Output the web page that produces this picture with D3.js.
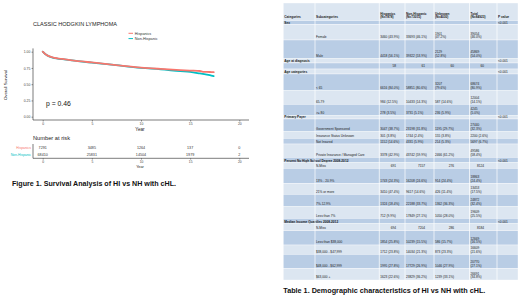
<!DOCTYPE html>
<html><head><meta charset="utf-8">
<script src="https://cdn.jsdelivr.net/npm/d3@7"></script>
<style>body{margin:0;background:#fff}svg{display:block}text{font-family:"Liberation Sans",Arial,sans-serif}</style>
</head><body>
<svg id="c" width="520" height="301"></svg>
<script>
// ---------------- DATA ----------------
const chartTitle = "CLASSIC HODGKIN LYMPHOMA";
const seriesNames = ["Hispanics", "Non-Hispanic"];
const seriesColors = ["#F8766D", "#00BFC4"];
const hispTimes = [0, 0.25, 0.5, 1, 1.5, 2, 3, 4, 5, 7, 10, 12, 14, 15, 16, 16.3, 17, 17.4];
const hispSurv  = [1.0, 0.965, 0.94, 0.913, 0.898, 0.888, 0.868, 0.85, 0.835, 0.80, 0.755, 0.735, 0.718, 0.71, 0.703, 0.69, 0.688, 0.686];
const nonHispTimes = [0, 0.25, 0.5, 1, 1.5, 2, 3, 4, 5, 7, 10, 12, 14, 15, 16, 17, 17.4];
const nonHispSurv  = [1.0, 0.965, 0.94, 0.91, 0.895, 0.885, 0.866, 0.848, 0.832, 0.80, 0.75, 0.728, 0.70, 0.688, 0.665, 0.64, 0.625];
const xTicks = [0, 5, 10, 15, 20];
const yTicks = [0, 0.25, 0.5, 0.75, 1];
const pValueText = "p = 0.46";
const riskHisp = [7291, 3485, 1264, 137, 0];
const riskNonHisp = [68410, 25831, 14504, 1979, 2];
const figCaption = "Figure 1. Survival Analysis of HI vs NH with cHL.";
const tableCaption = "Table 1. Demographic characteristics of HI vs NH with cHL.";

const tableHeaders = ["Categories", "Subcategories", "Hispanics\n(N=7878)", "Non-Hispanic\n(N=73015)", "Unknown\n(N=4030)", "Total\n(N=84923)", "P value"];
const tableRows = [
  ["Sex", "", "", "", "", "", "<0.001"],
  ["", "Female", "3460 (43.9%)", "33693 (46.1%)", "1901\n(47.2%)", "39054\n(46.0%)", ""],
  ["", "Male", "4418 (56.1%)", "39322 (53.9%)", "2129\n(52.8%)", "45869\n(54.0%)", ""],
  ["Age at diagnosis", "", "", "", "", "", "<0.001"],
  ["", "", "58", "61", "60", "60", ""],
  ["Age categories", "", "", "", "", "", "<0.001"],
  ["", "< 65", "6616 (84.0%)", "58851 (80.6%)", "3207\n(79.6%)", "68674\n(80.9%)", ""],
  ["", "65-79", "984 (12.5%)", "10433 (14.3%)", "587 (14.6%)", "12004\n(14.1%)", ""],
  ["", ">= 80", "278 (3.5%)", "3731 (5.1%)", "236 (5.9%)", "4245\n(5.0%)", ""],
  ["Primary Payer", "", "", "", "", "", "<0.001"],
  ["", "Government Sponsored", "3047 (38.7%)", "23198 (31.8%)", "1195 (29.7%)", "27440\n(32.3%)", ""],
  ["", "Insurance Status Unknown", "301 (3.8%)", "1744 (2.4%)", "155 (3.8%)", "2200 (2.6%)", ""],
  ["", "Not Insured", "1152 (14.6%)", "4331 (5.9%)", "214 (5.3%)", "5697 (6.7%)", ""],
  ["", "Private Insurance / Managed Care", "3378 (42.9%)", "43742 (59.9%)", "2466 (61.2%)", "49586\n(58.4%)", ""],
  ["Percent No High School Degree 2008-2012", "", "", "", "", "", "<0.001"],
  ["", "N-Miss", "691", "7157", "276", "8124", ""],
  ["", "13% - 20.9%", "1743 (24.3%)", "16208 (24.6%)", "914 (24.4%)", "18863\n(24.4%)", ""],
  ["", "21% or more", "3410 (47.4%)", "9617 (14.6%)", "426 (11.4%)", "13453\n(17.5%)", ""],
  ["", "7%-12.9%", "1324 (18.4%)", "22188 (33.7%)", "1362 (36.3%)", "24872\n(32.4%)", ""],
  ["", "Less than 7%", "712 (9.9%)", "17849 (27.1%)", "1050 (28.0%)", "19609\n(25.5%)", ""],
  ["Median Income Quartiles 2008-2012", "", "", "", "", "", "<0.001"],
  ["", "N-Miss", "694", "7204", "286", "8184", ""],
  ["", "Less than $38,000", "1854 (25.8%)", "10239 (15.5%)", "586 (15.7%)", "12669\n(16.5%)", ""],
  ["", "$38,000 - $47,999", "1712 (23.8%)", "14034 (21.3%)", "873 (23.3%)", "16609\n(21.6%)", ""],
  ["", "$48,000 - $62,999", "1995 (27.8%)", "17729 (26.9%)", "1046 (27.9%)", "20770\n(27.1%)", ""],
  ["", "$63,000 +", "1623 (22.6%)", "23829 (36.2%)", "1239 (33.1%)", "26691\n(34.8%)", ""]
];

// ---------------- LAYOUT ----------------
const svg = d3.select("#c");
const x = d3.scaleLinear().domain([0, 20]).range([42.7, 239.3]);
const y = d3.scaleLinear().domain([0, 1]).range([116.7, 51.7]);
const panelLeft = 33, panelRight = 249, panelTop = 48.4, panelBottom = 120;

svg.append("text").attr("x", 33).attr("y", 26.2).attr("font-size", 6.1)
  .attr("fill", "#222").attr("textLength", 84).attr("lengthAdjust", "spacingAndGlyphs").text(chartTitle);

// legend
seriesNames.forEach((n, i) => {
  const ly = 33.3 + i * 5.3;
  svg.append("line").attr("x1", 128.5).attr("x2", 133).attr("y1", ly).attr("y2", ly)
    .attr("stroke", seriesColors[i]).attr("stroke-width", 1);
  svg.append("text").attr("x", 134.8).attr("y", ly + 1.3).attr("font-size", 3.8).attr("fill", "#333").text(n);
});

// axes
const gx = svg.append("g").attr("transform", `translate(0,${panelBottom})`)
  .call(d3.axisBottom(x).tickValues(xTicks).tickSize(1.5).tickPadding(1.5).tickFormat(d3.format("d")));
const gy = svg.append("g").attr("transform", `translate(${panelLeft},0)`)
  .call(d3.axisLeft(y).tickValues(yTicks).tickSize(1.5).tickPadding(1.2).tickFormat(d3.format(".2f")));
[gx, gy].forEach(g => {
  g.select(".domain").remove();
  g.selectAll("text").attr("font-size", 3.4).attr("fill", "#444").attr("font-family", "Liberation Sans, Arial");
  g.selectAll("line").attr("stroke", "#333").attr("stroke-width", 0.5);
});
svg.append("line").attr("x1", panelLeft).attr("x2", panelRight).attr("y1", panelBottom).attr("y2", panelBottom).attr("stroke", "#222").attr("stroke-width", 0.6);
svg.append("line").attr("x1", panelLeft).attr("x2", panelLeft).attr("y1", panelTop).attr("y2", panelBottom).attr("stroke", "#222").attr("stroke-width", 0.6);

svg.append("text").attr("x", 140).attr("y", 130.5).attr("text-anchor", "middle").attr("font-size", 4.6).attr("fill", "#222").text("Year");
svg.append("text").attr("transform", "translate(6.5,85) rotate(-90)").attr("text-anchor", "middle").attr("font-size", 4.3).attr("fill", "#222").text("Overall Survival");

// curves
const line = d3.line().x(d => x(d[0])).y(d => y(d[1])).curve(d3.curveMonotoneX);
const seriesData = [d3.zip(hispTimes, hispSurv), d3.zip(nonHispTimes, nonHispSurv)];
[1, 0].forEach(i => {
  svg.append("path").datum(seriesData[i]).attr("d", line).attr("fill", "none")
    .attr("stroke", seriesColors[i]).attr("stroke-width", 1.8).attr("stroke-linecap", "round");
});

svg.append("text").attr("x", 46).attr("y", 106.4).attr("font-size", 6.8).attr("fill", "#111").text(pValueText);

// risk table
svg.append("text").attr("x", 33).attr("y", 140).attr("font-size", 6.2).attr("fill", "#222")
  .attr("textLength", 37).attr("lengthAdjust", "spacingAndGlyphs").text("Number at risk");
const riskY = [147.8, 154.8];
[riskHisp, riskNonHisp].forEach((arr, i) => {
  svg.append("text").attr("x", 31).attr("y", riskY[i] + 1.2).attr("text-anchor", "end")
    .attr("font-size", 3.4).attr("fill", seriesColors[i]).text(seriesNames[i]);
  svg.selectAll(null).data(arr).enter().append("text")
    .attr("x", (d, j) => x(xTicks[j])).attr("y", riskY[i] + 1.3).attr("text-anchor", "middle")
    .attr("font-size", 3.7).attr("fill", "#333").text(d => d);
});
const rx = svg.append("g").attr("transform", "translate(0,158.3)")
  .call(d3.axisBottom(x).tickValues(xTicks).tickSize(1.3).tickPadding(1.2).tickFormat(d3.format("d")));
rx.select(".domain").remove();
rx.selectAll("text").attr("font-size", 3.3).attr("fill", "#444");
rx.selectAll("line").attr("stroke", "#333").attr("stroke-width", 0.5);
svg.append("line").attr("x1", panelLeft).attr("x2", panelRight).attr("y1", 158.3).attr("y2", 158.3).attr("stroke", "#222").attr("stroke-width", 0.6);
svg.append("line").attr("x1", panelLeft).attr("x2", panelLeft).attr("y1", 144).attr("y2", 158.3).attr("stroke", "#222").attr("stroke-width", 0.6);
svg.append("text").attr("x", 140).attr("y", 168).attr("text-anchor", "middle").attr("font-size", 3.8).attr("fill", "#222").text("Year");

svg.append("text").attr("x", 12).attr("y", 186).attr("font-size", 7.4).attr("font-weight", "bold").attr("fill", "#111")
  .attr("textLength", 164).attr("lengthAdjust", "spacingAndGlyphs").text(figCaption);

// ---------------- TABLE ----------------
const colX = [283.3, 315, 379.3, 405, 434, 469.5, 497, 518];
const numAnchor = [null, null, 396, 425, 454, 484];
const rowH = [17.5, 4, 15.5, 18.7, 4.3, 6, 5, 16.7, 13.6, 11.4, 3.3, 12.7, 6.6, 5.7, 13.3, 5.4, 5.6, 15, 11, 12.4, 11.6, 5.4, 7, 14.3, 9.3, 14, 11.7];
const allRows = [tableHeaders].concat(tableRows);
let rowTop = 3;
const tg = svg.append("g");
const fs = 3.2, lh = 3.7;
allRows.forEach((row, ri) => {
  const h = rowH[ri];
  const bottom = rowTop + h;
  const isSection = ri > 0 && row[0] !== "";
  tg.append("rect").attr("x", colX[0]).attr("y", rowTop).attr("width", colX[7] - colX[0]).attr("height", h)
    .attr("fill", ri % 2 === 0 ? "#DCE6F1" : "#B9CDE5").attr("stroke", "#fff").attr("stroke-width", 0.35);
  row.forEach((cell, ci) => {
    if (!cell) return;
    const lines = cell.split("\n");
    const isNum = /^\d+$/.test(cell) && ci >= 2;
    const tx = isNum ? numAnchor[ci] : colX[ci] + 1;
    const baseY = bottom - (ri === 0 ? 2.2 : (h < 6 ? 0.9 : 1.6));
    lines.forEach((ln, k) => {
      tg.append("text").attr("x", tx).attr("y", baseY - (lines.length - 1 - k) * lh)
        .attr("text-anchor", isNum ? "end" : "start")
        .attr("font-size", fs).attr("fill", "#1a1a1a")
        .attr("font-weight", (ri === 0 || (isSection && ci === 0)) ? "bold" : "normal")
        .text(ln);
    });
  });
  rowTop = bottom;
});
colX.slice(1, 7).forEach(cx => {
  tg.append("line").attr("x1", cx).attr("x2", cx).attr("y1", 3).attr("y2", rowTop).attr("stroke", "#fff").attr("stroke-width", 0.7);
});

svg.append("text").attr("x", 283.3).attr("y", 292.8).attr("font-size", 7.6).attr("font-weight", "bold").attr("fill", "#111")
  .attr("textLength", 202).attr("lengthAdjust", "spacingAndGlyphs").text(tableCaption);
</script>
</body></html>
